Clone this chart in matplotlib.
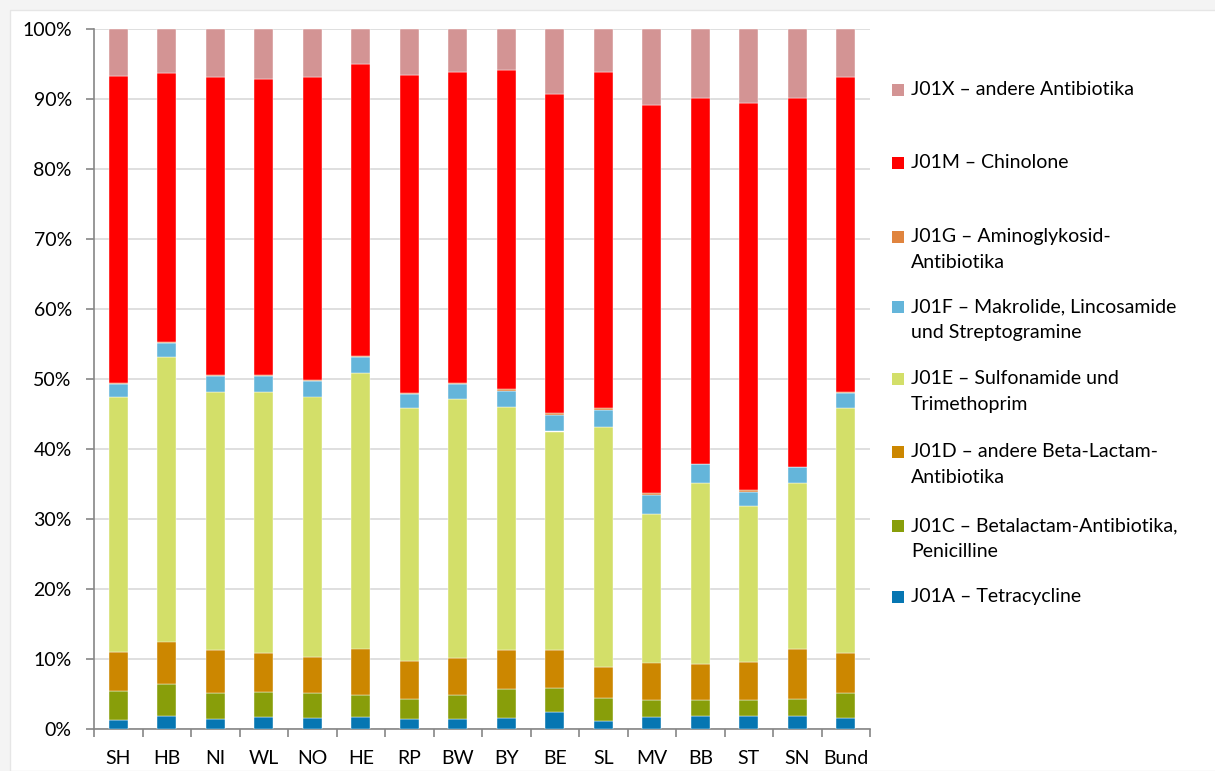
import matplotlib
matplotlib.use("Agg")
import matplotlib.pyplot as plt
import numpy as np
from matplotlib.patches import Rectangle

plt.rcParams["font.family"] = ["Lato", "DejaVu Sans"]

# Bundeslaender, Anteile je ATC-Gruppe in Prozent
regions = ["SH", "HB", "NI", "WL", "NO", "HE", "RP", "BW", "BY", "BE",
           "SL", "MV", "BB", "ST", "SN", "Bund"]

j01a = [1.23, 1.9, 1.4, 1.7, 1.6, 1.75, 1.5, 1.4, 1.6, 2.4, 1.2, 1.7, 1.8, 1.9, 1.9, 1.6]
j01c = [4.17, 4.5, 3.8, 3.6, 3.5, 3.15, 2.8, 3.4, 4.1, 3.4, 3.2, 2.5, 2.3, 2.3, 2.4, 3.5]
j01d = [5.6, 6.1, 6.1, 5.6, 5.2, 6.6, 5.4, 5.3, 5.6, 5.5, 4.5, 5.3, 5.2, 5.4, 7.2, 5.7]
j01e = [36.4, 40.6, 36.9, 37.2, 37.2, 39.4, 36.1, 37.1, 34.7, 31.2, 34.2, 21.2, 25.9, 22.2, 23.7, 35.0]
j01f = [1.9, 2.0, 2.2, 2.3, 2.2, 2.2, 2.0, 2.1, 2.3, 2.4, 2.5, 2.7, 2.6, 2.0, 2.2, 2.2]
j01g = [0.2, 0.2, 0.2, 0.2, 0.1, 0.2, 0.2, 0.2, 0.3, 0.3, 0.2, 0.3, 0.1, 0.3, 0.1, 0.2]
j01m = [43.8, 38.4, 42.5, 42.2, 43.4, 41.7, 45.4, 44.3, 45.6, 45.5, 48.0, 55.5, 52.2, 55.3, 52.6, 44.9]
j01x = [6.7, 6.3, 6.9, 7.2, 6.8, 5.0, 6.6, 6.2, 5.8, 9.3, 6.2, 10.8, 9.9, 10.6, 9.9, 6.9]

series = [
    ("J01A \u2013 Tetracycline", j01a, "#0676B2"),
    ("J01C \u2013 Betalactam-Antibiotika,\nPenicilline", j01c, "#889E0A"),
    ("J01D \u2013 andere Beta-Lactam-\nAntibiotika", j01d, "#CC8700"),
    ("J01E \u2013 Sulfonamide und\nTrimethoprim", j01e, "#D3DF69"),
    ("J01F \u2013 Makrolide, Lincosamide\nund Streptogramine", j01f, "#64B5DA"),
    ("J01G \u2013 Aminoglykosid-\nAntibiotika", j01g, "#E0843E"),
    ("J01M \u2013 Chinolone", j01m, "#FF0000"),
    ("J01X \u2013 andere Antibiotika", j01x, "#D39494"),
]

AXIS_COLOR = "#868686"
GRID_COLOR = "#D9D9D9"
TEXT_COLOR = "#000000"
FONT_SIZE = 14

fig = plt.figure(figsize=(12.15, 7.71), dpi=100)
fig.patch.set_facecolor("#F4F4F4")
fig.patches.append(Rectangle((10 / 1215, 0), 1, 1 - 10 / 771,
                             transform=fig.transFigure, facecolor="white",
                             edgecolor="#E6E6E6", linewidth=1.0, zorder=-10))

ax = fig.add_axes([94 / 1215, 1 - 729 / 771, (870 - 94) / 1215, 700 / 771])
ax.set_facecolor("none")
ax.set_zorder(2)

x = np.arange(len(regions))
totals = np.sum([np.array(s[1]) for s in series], axis=0)
bottom = np.zeros(len(regions))
for label, values, color in series:
    share = np.array(values) / totals * 100
    ax.bar(x, share, 0.40, bottom=bottom, color=color,
           edgecolor="white", linewidth=0.3, zorder=3)
    bottom += share

ax.set_xlim(-0.5, len(regions) - 0.5)
ax.set_ylim(0, 100)
ax.set_yticks(np.arange(0, 101, 10))
ax.set_yticklabels(["%d%%" % v for v in range(0, 101, 10)])
ax.yaxis.grid(True, color=GRID_COLOR, linewidth=1.2, zorder=0)
ax.set_axisbelow(True)

ax.set_xticks(x)
ax.set_xticklabels(regions)
ax.set_xticks(np.arange(-0.5, len(regions), 1), minor=True)
ax.tick_params(axis="x", which="major", length=0, pad=15, labelsize=FONT_SIZE,
               colors=TEXT_COLOR)
ax.tick_params(axis="x", which="minor", length=6, width=1.2, color=AXIS_COLOR)
ax.tick_params(axis="y", length=6, width=1.2, color=AXIS_COLOR, pad=10,
               labelsize=FONT_SIZE, labelcolor=TEXT_COLOR)

for side in ("top", "right"):
    ax.spines[side].set_visible(False)
for side in ("left", "bottom"):
    ax.spines[side].set_color(AXIS_COLOR)
    ax.spines[side].set_linewidth(1.2)

# legend in Excel layout: marker beside first line of each entry
legend_rows = [90, 163, 237, 307, 379, 452, 526, 597]
for (label, values, color), ypix in zip(reversed(series), legend_rows):
    fig.patches.append(Rectangle((892 / 1215, 1 - (ypix + 6) / 771),
                                 12 / 1215, 12 / 771,
                                 transform=fig.transFigure,
                                 facecolor=color, edgecolor="none"))
    fig.text(911 / 1215, 1 - (ypix - 9) / 771, label, fontsize=FONT_SIZE,
             va="top", ha="left", linespacing=1.65, color=TEXT_COLOR)

fig.savefig("out.png", dpi=100, facecolor=fig.get_facecolor())
